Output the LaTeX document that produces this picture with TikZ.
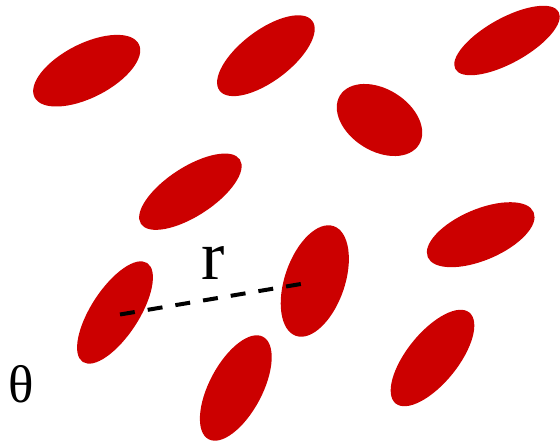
\documentclass[tikz,border=0pt]{standalone}
\usepackage{fontspec}
\setmainfont{Liberation Serif}
\usepackage{tikz}
\usetikzlibrary{shapes.geometric}
\definecolor{blobred}{RGB}{204,0,0}

\begin{document}
\begin{tikzpicture}[x=1pt, y=-1pt,
  blob/.style={ellipse, fill=blobred, inner sep=0pt},
  rline/.style={line width=4pt, dash pattern=on 15pt off 13.07pt}]
  \useasboundingbox (0,0) rectangle (560,441);

  % upper group
  \node[blob, minimum width=117pt, minimum height=54pt, rotate=27] (e1) at (86.7, 70.7) {};
  \node[blob, minimum width=116pt, minimum height=51pt, rotate=37] (e2) at (265.9, 55.7) {};
  \node[blob, minimum width=118pt, minimum height=45pt, rotate=29] (e3) at (507, 40.5) {};
  \node[blob, minimum width=93pt, minimum height=62pt, rotate=-32] (e4) at (379.5, 120) {};
  \node[blob, minimum width=118pt, minimum height=49pt, rotate=33] (e5) at (190.4, 191.7) {};
  \node[blob, minimum width=115pt, minimum height=51pt, rotate=23] (e6) at (480.7, 234.7) {};

  % lower group
  \node[blob, minimum width=116pt, minimum height=60pt, rotate=71] (e7) at (314.8, 281) {};
  \node[blob, minimum width=118pt, minimum height=48pt, rotate=57] (e8) at (115, 312.5) {};
  \node[blob, minimum width=116pt, minimum height=53pt, rotate=62] (e9) at (235.8, 388) {};
  \node[blob, minimum width=117pt, minimum height=51pt, rotate=51] (e10) at (432.5, 358) {};

  % distance r
  \draw[rline] ([shift={(5,2)}]e8.center) -- ([shift={(-14,3)}]e7.center);
  \node[font=\fontsize{70}{70}\selectfont, inner sep=0pt] (rlab) at (213, 263) {r};

  % angle label
  \node[font=\fontsize{53}{53}\selectfont, inner sep=0pt] (theta) at (21, 384) {θ};
\end{tikzpicture}
\end{document}
